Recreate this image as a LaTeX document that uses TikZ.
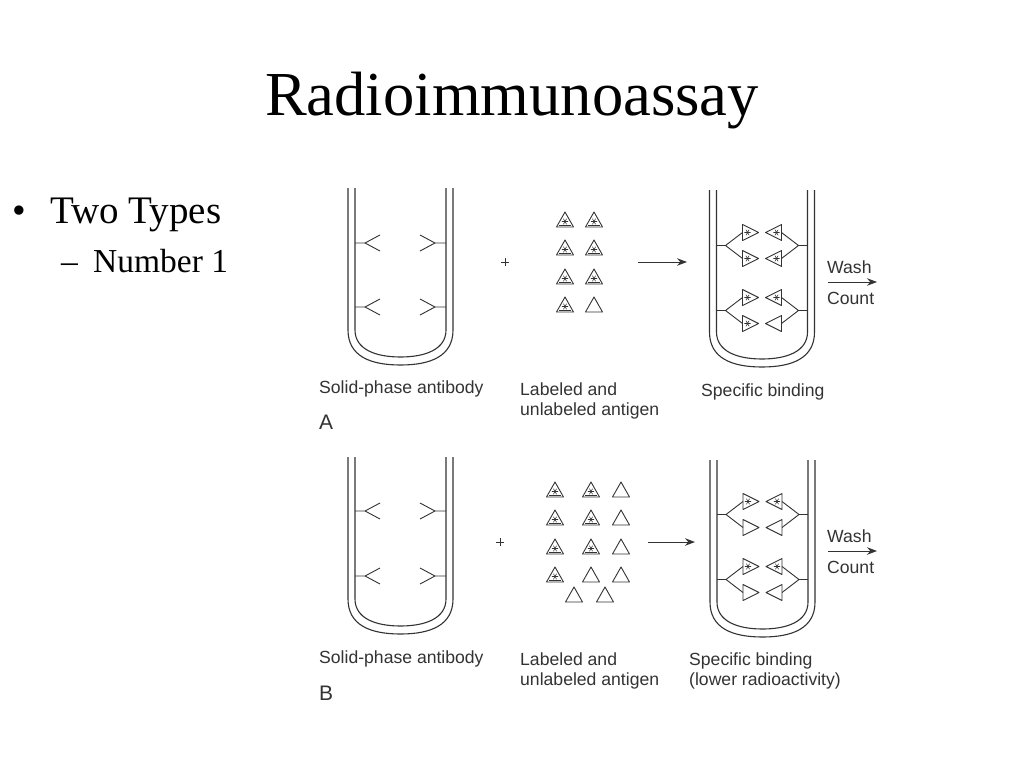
\documentclass[tikz,border=0pt]{standalone}
\usepackage{fontspec}
\setmainfont{Liberation Serif}
\newfontfamily\labfont{Liberation Sans}
\usetikzlibrary{arrows.meta}
\definecolor{ink}{HTML}{333333}
\tikzset{
  lab/.style={font=\labfont\fontsize{17.6}{20}\selectfont, text=ink, inner sep=0pt, anchor=base west},
  big/.style={font=\labfont\fontsize{21}{24}\selectfont, text=ink, inner sep=0pt, anchor=base west},
  wall/.style={draw=ink, line width=1.1pt},
  thinl/.style={draw=ink, line width=0.9pt},
  arr/.style={draw=ink, line width=1pt, -{Stealth[length=10pt,width=7.5pt]}},
  tube/.pic={
    \draw[wall] (0,0) -- (0,142) .. controls (0,168) and (22,177) .. (52.5,177) .. controls (83,177) and (105,168) .. (105,142) -- (105,0);
    \draw[wall] (7,0) -- (7,142) .. controls (7,161) and (27,169) .. (52.5,169) .. controls (78,169) and (98,161) .. (98,142) -- (98,0);
  },
  abl/.pic={\draw[thinl] (0,0) -- (10,0) (25,-8) -- (10,0) -- (25,8);},
  abr/.pic={\draw[thinl] (0,0) -- (-11,0) (-26,-8) -- (-11,0) -- (-26,8);},
  star/.pic={\draw[ink, line width=0.55pt] (-3.2,0) -- (3.2,0) (-1.6,-2.8) -- (1.6,2.8) (-1.6,2.8) -- (1.6,-2.8);},
  ag/.pic={\draw[thinl, line join=round] (-8.5,7) -- (8.5,7) -- (0,-8) -- cycle;},
  lag/.pic={\draw[thinl, line join=round] (-8.5,7) -- (8.5,7) -- (0,-8) -- cycle;
            \draw[ink, line width=0.6pt] (-6,5.5) -- (6,5.5);
            \pic at (0,1.5) {star};},
  bR/.pic={\draw[thinl, line join=round] (0,-8) -- (0,8) -- (16,0) -- cycle;},
  lbR/.pic={\draw[thinl, line join=round] (0,-8) -- (0,8) -- (16,0) -- cycle; \pic at (5,0) {star};},
  bL/.pic={\draw[thinl, line join=round] (0,-8) -- (0,8) -- (-16,0) -- cycle;},
  lbL/.pic={\draw[thinl, line join=round] (0,-8) -- (0,8) -- (-16,0) -- cycle; \pic at (-5,0) {star};},
  plus/.pic={\draw[ink, line width=0.8pt] (-4,0) -- (4,0) (0,-4) -- (0,4);},
  cl/.pic={\draw[thinl] (0,0) -- (9,0) (26,-13) -- (9,0) -- (26,13);},
  cr/.pic={\draw[thinl] (0,0) -- (-9,0) (-26,-13) -- (-9,0) -- (-26,13);}
}
\begin{document}
\begin{tikzpicture}[x=1pt,y=-1pt]
\useasboundingbox[fill=white] (0,0) rectangle (1024,768);

% title and bullets
\node[font=\fontsize{62.6}{70}\selectfont, inner sep=0pt, anchor=base] (title) at (512,115) {Radioimmunoassay};
\node[font=\fontsize{39}{42}\selectfont, inner sep=0pt, anchor=base west] (b1) at (12,223) {•};
\node[font=\fontsize{39}{42}\selectfont, inner sep=0pt, anchor=base west] (t1) at (50,223) {Two Types};
\node[font=\fontsize{33.5}{38}\selectfont, inner sep=0pt, anchor=base west] (b2) at (61,272) {–};
\node[font=\fontsize{33.5}{38}\selectfont, inner sep=0pt, anchor=base west] (t2) at (93,272) {Number 1};

% ================= Panel A =================
\pic at (348,188) {tube};
\pic at (355,243) {abl};
\pic at (355,307) {abl};
\pic at (446,243) {abr};
\pic at (446,307) {abr};
\pic at (505,262) {plus};
\foreach \y in {220,248,277,305} {\pic at (565,\y) {lag};}
\foreach \y in {220,248,277} {\pic at (594,\y) {lag};}
\pic at (594,305) {ag};
\coordinate (a1s) at (638,262);
\coordinate (a1e) at (687,262);
\draw[arr] (a1s) -- (a1e);

\pic at (709.5,190) {tube};
\begin{scope}[shift={(716.5,245.5)}]
  \pic at (0,0) {cl}; \pic at (26,-13) {lbR}; \pic at (26,13) {lbR};
\end{scope}
\begin{scope}[shift={(807.5,245.5)}]
  \pic at (0,0) {cr}; \pic at (-26,-13) {lbL}; \pic at (-26,13) {lbL};
\end{scope}
\begin{scope}[shift={(716.5,310.5)}]
  \pic at (0,0) {cl}; \pic at (26,-13) {lbR}; \pic at (26,13) {lbR};
\end{scope}
\begin{scope}[shift={(807.5,310.5)}]
  \pic at (0,0) {cr}; \pic at (-26,-13) {lbL}; \pic at (-26,13) {bL};
\end{scope}

\node[lab] (washA) at (827,273) {Wash};
\node[lab] (countA) at (827,304) {Count};
\coordinate (w1s) at (828,282);
\coordinate (w1e) at (877,282);
\draw[arr] (w1s) -- (w1e);

\node[lab] (solA) at (319,393) {Solid-phase antibody};
\node[lab] (labA1) at (520,395) {Labeled and};
\node[lab] (labA2) at (520,415) {unlabeled antigen};
\node[lab] (specA) at (701,396) {Specific binding};
\node[big] (A) at (319,429) {A};

% ================= Panel B =================
\pic at (348,457) {tube};
\pic at (355,511) {abl};
\pic at (355,576) {abl};
\pic at (446,511) {abr};
\pic at (446,576) {abr};
\pic at (500,542) {plus};
\foreach \y in {490,518,547,575} {\pic at (555,\y) {lag};}
\foreach \y in {490,518,547} {\pic at (591,\y) {lag};}
\pic at (591,575) {ag};
\foreach \y in {490,518,547,575} {\pic at (621,\y) {ag};}
\pic at (574,595) {ag};
\pic at (605,595) {ag};
\coordinate (a2s) at (648,542);
\coordinate (a2e) at (695,542);
\draw[arr] (a2s) -- (a2e);

\pic at (710,460) {tube};
\begin{scope}[shift={(717,514.5)}]
  \pic at (0,0) {cl}; \pic at (26,-13) {lbR}; \pic at (26,13) {bR};
\end{scope}
\begin{scope}[shift={(808,514.5)}]
  \pic at (0,0) {cr}; \pic at (-26,-13) {lbL}; \pic at (-26,13) {bL};
\end{scope}
\begin{scope}[shift={(717,579.5)}]
  \pic at (0,0) {cl}; \pic at (26,-13) {lbR}; \pic at (26,13) {bR};
\end{scope}
\begin{scope}[shift={(808,579.5)}]
  \pic at (0,0) {cr}; \pic at (-26,-13) {lbL}; \pic at (-26,13) {bL};
\end{scope}

\node[lab] (washB) at (827,542) {Wash};
\node[lab] (countB) at (827,573) {Count};
\coordinate (w2s) at (828,551);
\coordinate (w2e) at (877,551);
\draw[arr] (w2s) -- (w2e);

\node[lab] (solB) at (319,663) {Solid-phase antibody};
\node[lab] (labB1) at (520,665) {Labeled and};
\node[lab] (labB2) at (520,685) {unlabeled antigen};
\node[lab] (specB1) at (689,665) {Specific binding};
\node[lab] (specB2) at (689,685) {(lower radioactivity)};
\node[big] (B) at (319,700) {B};
\end{tikzpicture}
\end{document}
